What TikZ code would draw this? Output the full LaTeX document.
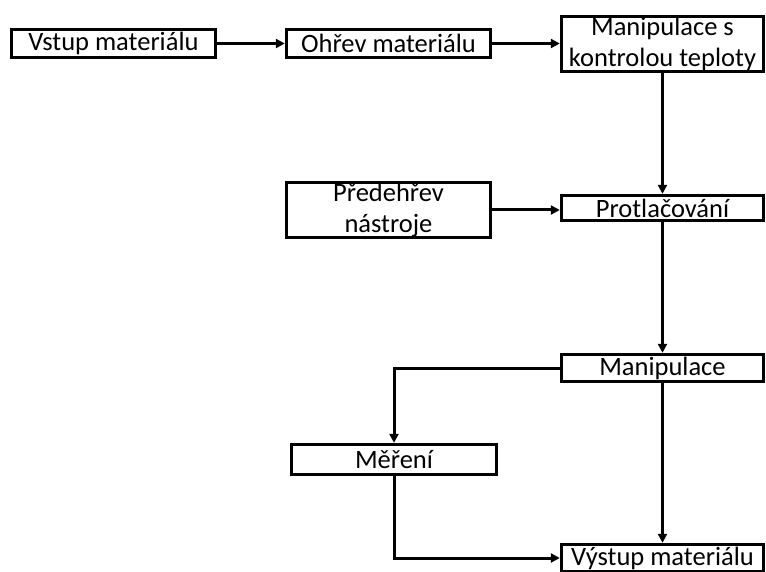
\documentclass[tikz,border=0pt]{standalone}
\usepackage{fontspec}
\setmainfont{Carlito}
\usetikzlibrary{arrows.meta}
\begin{document}
\begin{tikzpicture}[x=1pt,y=-1pt,
  box/.style={draw, line width=3.4pt, inner sep=0pt, align=center, font=\fontsize{26.5}{31}\selectfont},
  conn/.style={line width=3pt, -{Triangle[length=9pt,width=9pt]}}]
\useasboundingbox (0,0) rectangle (766,572);
\fill[white] (0,0) rectangle (766,572);
\node[box, minimum width=204pt, minimum height=28pt] (vst) at (113.5,43.5) {Vstup materiálu};
\node[box, minimum width=204pt, minimum height=28pt] (ohr) at (388.5,43.5) {Ohřev materiálu};
\node[box, minimum width=202pt, minimum height=55pt] (mks) at (662.5,44) {Manipulace s\\kontrolou teploty};
\node[box, minimum width=204pt, minimum height=55pt] (pre) at (388.5,210) {Předehřev\\nástroje};
\node[box, minimum width=202pt, minimum height=25pt] (pro) at (662.5,208) {Protlačování};
\node[box, minimum width=202pt, minimum height=27pt] (man) at (662.5,368) {Manipulace};
\node[box, minimum width=205pt, minimum height=30pt] (mer) at (394,459.5) {Měření};
\node[box, minimum width=202pt, minimum height=27pt] (vys) at (662.5,558) {Výstup materiálu};
\draw[conn] (vst.east) -- (ohr.west);
\draw[conn] (ohr.east) -- (ohr.east -| mks.west);
\draw[conn] (mks.south) -- (pro.north);
\draw[conn] (pre.east) -- (pre.east -| pro.west);
\draw[conn] (pro.south) -- (man.north);
\draw[conn] (man.west) -| (mer.north);
\draw[conn] (man.south) -- (vys.north);
\draw[conn] (mer.south) |- (vys.west);
\end{tikzpicture}
\end{document}
